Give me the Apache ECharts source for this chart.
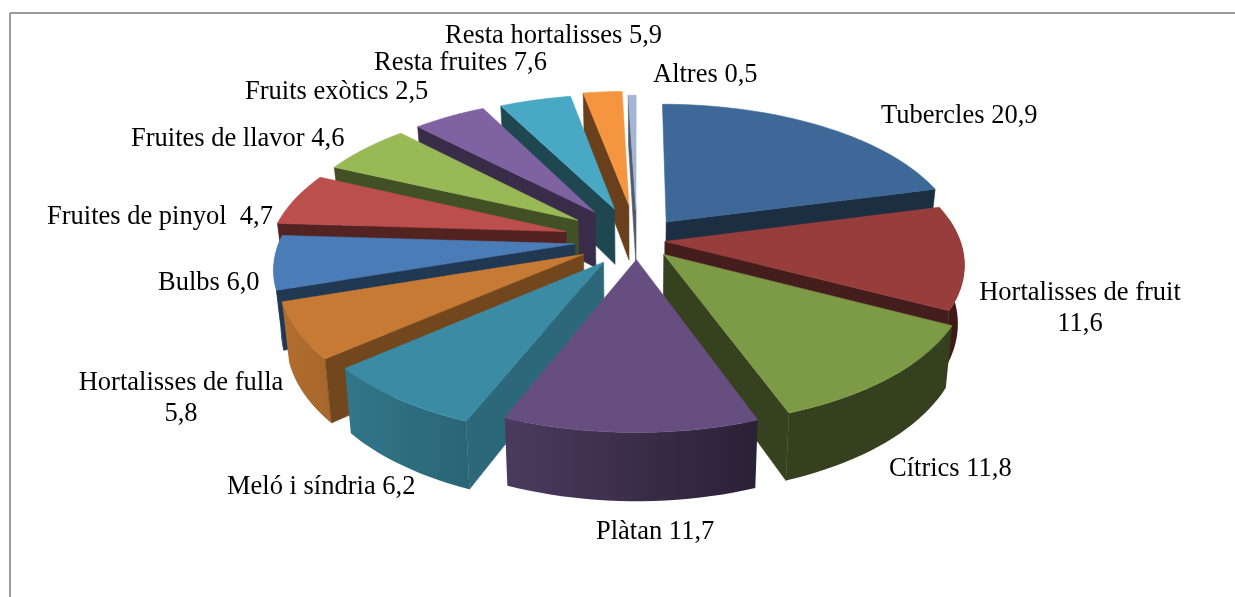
<!DOCTYPE html>
<html lang="ca">
<head>
<meta charset="UTF-8">
<title>Pie</title>
<script src="https://fastly.jsdelivr.net/npm/echarts@6/dist/echarts.min.js"></script>
<style>html,body{margin:0;padding:0;background:#fff}</style>
</head>
<body>
<div id="dv" style="width:1235px;height:597px;"></div>
<script>
// slices in the order they run clockwise from 12 o'clock
const categories = ['Tubercles', 'Hortalisses de fruit', 'Cítrics', 'Plàtan', 'Resta fruites', 'Meló i síndria',
    'Bulbs', 'Resta hortalisses', 'Hortalisses de fulla', 'Fruites de pinyol', 'Fruites de llavor', 'Fruits exòtics', 'Altres'];
const values = [20.9, 11.6, 11.8, 11.7, 7.6, 6.2, 6.0, 5.9, 5.8, 4.7, 4.6, 2.5, 0.5];

const explode = [0.165, 0.095, 0.135, 0.137, 0.19, 0.205, 0.212, 0.25, 0.25, 0.25, 0.24, 0.26, 0.22];
const colors = ['#3e6897', '#973e3c', '#7d9a47', '#664f80', '#3a8ba3', '#c67a34',
    '#4a7cb8', '#bc4f4d', '#99b957', '#7f62a1', '#49a9c4', '#f5953f', '#a4b5d6'];
const sideShade = [0.44, 0.46, 0.43, 0.45, 0.75, 0.58, 0.45, 0.44, 0.43, 0.45, 0.42, 0.43, 0.5];

// labels sit where the author dragged them: [name, x, y, align, separator]
const labelSpots = [
    ['Resta hortalisses', 445, 36, 'left', ' '],
    ['Resta fruites', 374, 63, 'left', ' '],
    ['Altres', 653, 75, 'left', ' '],
    ['Fruits exòtics', 245, 92, 'left', ' '],
    ['Tubercles', 881, 116, 'left', ' '],
    ['Fruites de llavor', 131, 139, 'left', ' '],
    ['Fruites de pinyol', 47, 217, 'left', '  '],
    ['Bulbs', 158, 283, 'left', ' '],
    ['Hortalisses de fruit', 1080, 309, 'center', '\n'],
    ['Hortalisses de fulla', 181, 399, 'center', '\n'],
    ['Cítrics', 889, 469, 'left', ' '],
    ['Meló i síndria', 227, 487, 'left', ' '],
    ['Plàtan', 596, 532, 'left', ' ']
];

const cx = 637, cy = 240, R = 295, tilt = 0.476, persp = 0.15, depth = 57;
const total = values.reduce((a, b) => a + b, 0);
const rad = d => d * Math.PI / 180;

let starts = [], acc = 0;
values.forEach(v => { starts.push(acc / total * 360); acc += v; });

function project(u, v, z) {
    let f = 1 / (1 - persp * v);
    return [cx + u * R * f * (1 - 0.02 * z), cy + (tilt * R * v + depth * z) * f];
}

function shade(hex, k) {
    let n = parseInt(hex.slice(1), 16);
    let c = [n >> 16, (n >> 8) & 255, n & 255].map(x => Math.round(x * k));
    return 'rgb(' + c.join(',') + ')';
}

// how dark the outer wall gets, by the way it faces
const rimStops = [[80, 0.42], [160, 0.42], [200, 0.72], [230, 0.85], [250, 0.89], [275, 0.66]];
function rimShade(a) {
    for (let i = 1; i < rimStops.length; i++) {
        if (a <= rimStops[i][0]) {
            let p = rimStops[i - 1], q = rimStops[i];
            return p[1] + (q[1] - p[1]) * (a - p[0]) / (q[0] - p[0]);
        }
    }
    return 0.66;
}

function poly(points, fill) {
    return { type: 'polygon', shape: { points: points }, style: { fill: fill, stroke: fill, lineWidth: 0.6 } };
}

function renderItem(params, api) {
    let i = api.value(0);
    let a0 = starts[i], a1 = a0 + values[i] / total * 360, mid = (a0 + a1) / 2;
    let eu = Math.sin(rad(mid)) * explode[i], ev = -Math.cos(rad(mid)) * explode[i];
    let pt = (a, z) => project(eu + Math.sin(rad(a)), ev - Math.cos(rad(a)), z);
    let apex = z => project(eu, ev, z);
    let kids = [];
    let sideCol = shade(colors[i], sideShade[i]);
    let steps = Math.max(2, Math.ceil((a1 - a0) / 2));

    // outer wall, one polygon with a left-right gradient
    let w0 = Math.max(a0, 80), w1 = Math.min(a1, 275);
    if (w1 > w0) {
        let upper = [], lower = [], stops = [];
        for (let s = 0; s <= steps; s++) {
            let a = w0 + (w1 - w0) * s / steps;
            upper.push(pt(a, 0));
            lower.unshift(pt(a, 1));
            stops.push({ offset: s / steps, color: shade(colors[i], rimShade(a)) });
        }
        kids.push({
            type: 'polygon',
            shape: { points: upper.concat(lower) },
            style: { fill: new echarts.graphic.LinearGradient(pt(w0, 0)[0], 0, pt(w1, 0)[0], 0, stops, true) }
        });
    }

    // side walls that face the viewer
    if (-Math.cos(rad(a0 - 90)) > 0) kids.push(poly([apex(0), pt(a0, 0), pt(a0, 1), apex(1)], sideCol));
    if (-Math.cos(rad(a1 + 90)) > 0) kids.push(poly([apex(0), pt(a1, 0), pt(a1, 1), apex(1)], sideCol));

    let top = [apex(0)];
    for (let s = 0; s <= steps; s++) top.push(pt(a0 + (a1 - a0) * s / steps, 0));
    kids.push(poly(top, colors[i]));
    return { type: 'group', children: kids };
}

// back slices first so the front ones cover them
const drawOrder = values.map((v, i) => i).sort((p, q) => {
    let mp = starts[p] + values[p] / total * 180, mq = starts[q] + values[q] / total * 180;
    return -Math.cos(rad(mp)) - -Math.cos(rad(mq));
});

const labelEls = labelSpots.map(s => {
    let val = values[categories.indexOf(s[0])].toFixed(1).replace('.', ',');
    return {
        type: 'text', x: s[1], y: s[2], silent: true,
        style: {
            text: s[0] + s[4] + val, fill: '#000', align: s[3], verticalAlign: 'middle',
            font: '26.5px "Liberation Serif"', lineHeight: 31
        }
    };
});

var myChart = echarts.init(document.getElementById('dv'), null, { renderer: 'canvas' });
myChart.setOption({
    animation: false,
    backgroundColor: '#fff',
    graphic: { elements: [
        { type: 'line', shape: { x1: 10, y1: 13, x2: 1235, y2: 13 }, style: { stroke: '#9a9a9a', lineWidth: 2 } },
        { type: 'line', shape: { x1: 10, y1: 13, x2: 10, y2: 597 }, style: { stroke: '#9a9a9a', lineWidth: 2 } }
    ].concat(labelEls) },
    series: [{
        type: 'custom',
        coordinateSystem: 'none',
        renderItem: renderItem,
        data: drawOrder.map(i => [i]),
        silent: true
    }]
});
</script>
</body>
</html>
